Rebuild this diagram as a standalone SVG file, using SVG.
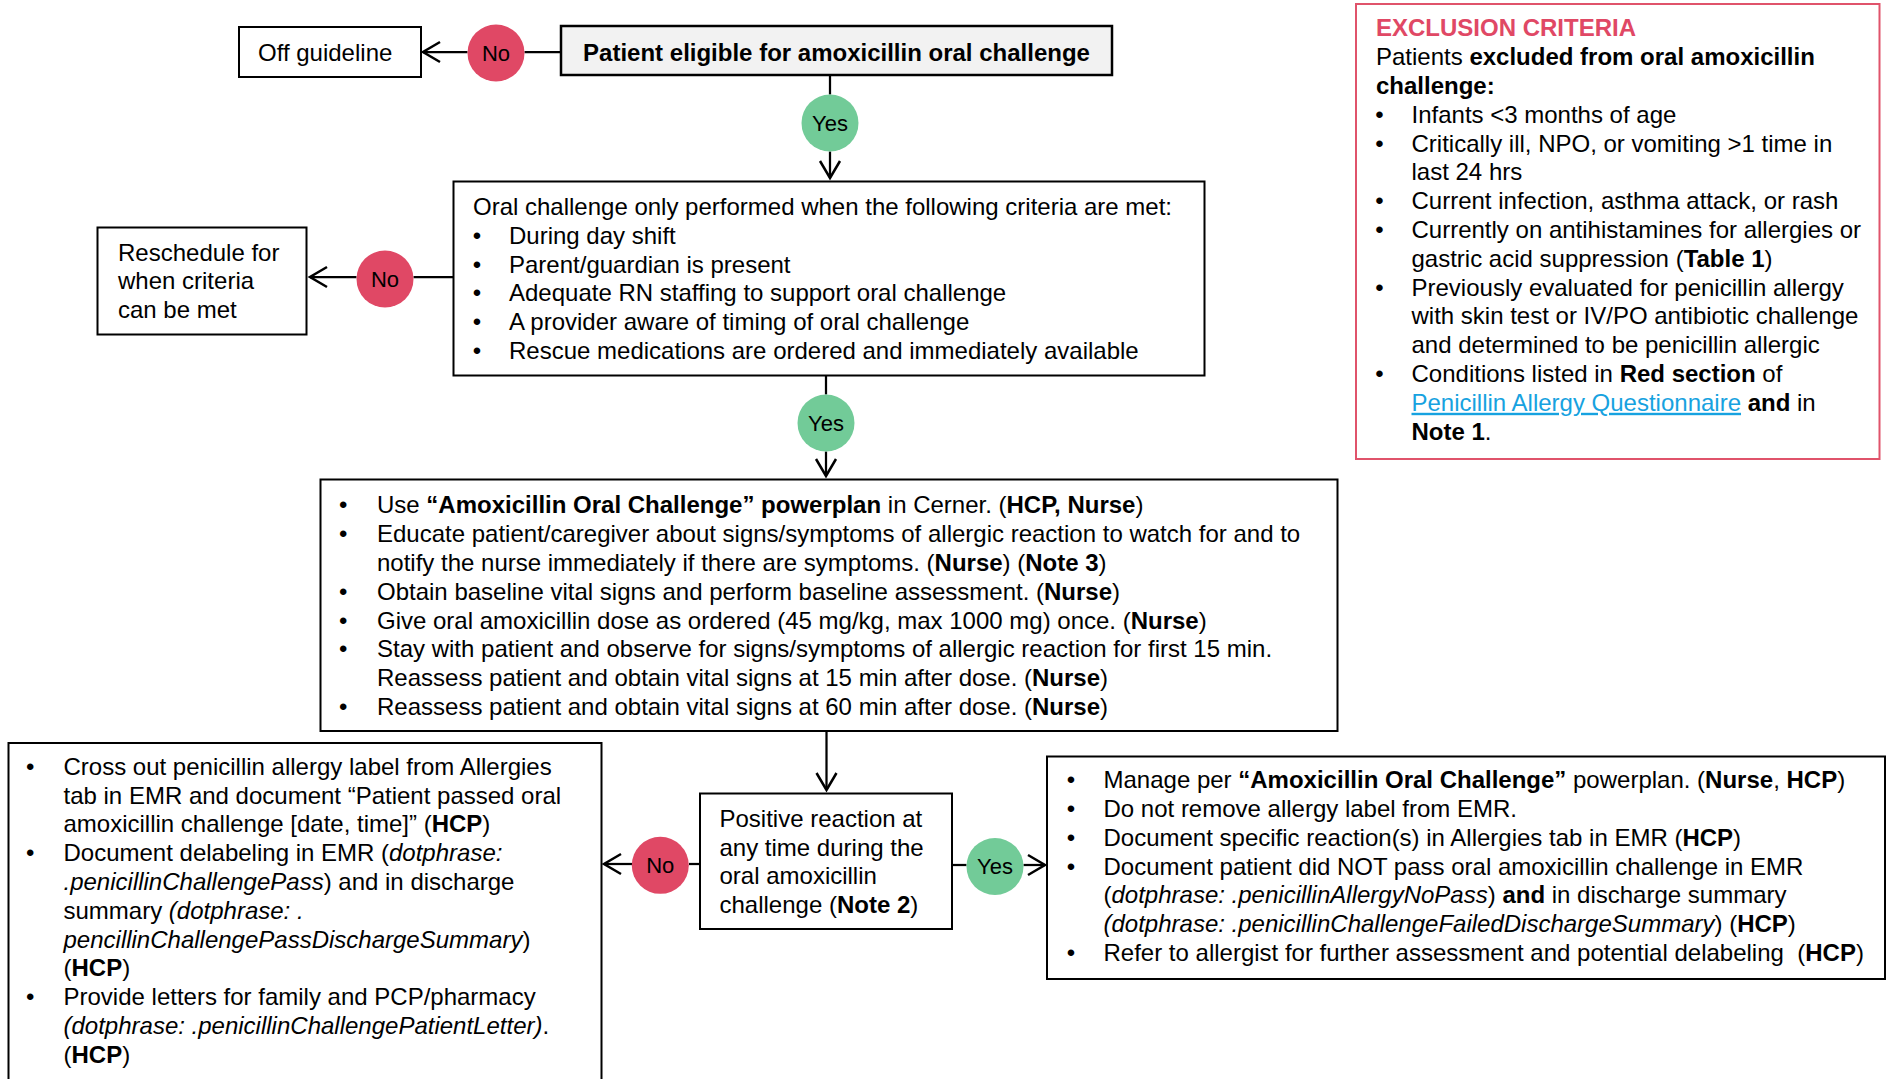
<svg xmlns="http://www.w3.org/2000/svg" width="1889" height="1079" viewBox="0 0 1889 1079">
<style>
  text { font-family: "Liberation Sans", Arial, sans-serif; font-size: 24px; fill: #000; }
  .b { font-weight: bold; }
  .i { font-style: italic; }
  .box { fill: #fff; stroke: #000; stroke-width: 2; }
  .gbox { fill: #f2f2f2; stroke: #000; stroke-width: 2.5; }
  .ex { fill: #fff; stroke: #e0536b; stroke-width: 2; }
  .no { fill: #e04865; }
  .yes { fill: #72cb98; }
  .lbl { font-size: 22px; text-anchor: middle; }
  .c { fill: none; stroke: #000; stroke-width: 2.25; }
  .red { fill: #e04865; }
  .lnk { fill: #17a2e0; text-decoration: underline; }
</style>
<defs>
  <marker id="arr" markerUnits="userSpaceOnUse" markerWidth="26" markerHeight="26" viewBox="-22 -13 26 26" refX="0" refY="0" orient="auto">
    <path d="M-17,-10 L0,0 L-17,10" fill="none" stroke="#000" stroke-width="2.5"/>
  </marker>
</defs>
<rect width="1889" height="1079" fill="#fff"/>

<g id="connectors">
  <line class="c" x1="561" y1="52" x2="524.5" y2="52"/>
  <line class="c" x1="467.5" y1="52" x2="423" y2="52" marker-end="url(#arr)"/>
  <line class="c" x1="830" y1="75" x2="830" y2="94.5"/>
  <line class="c" x1="830" y1="151.5" x2="830" y2="178" marker-end="url(#arr)"/>
  <line class="c" x1="453.5" y1="277" x2="413.5" y2="277"/>
  <line class="c" x1="356.5" y1="277" x2="310" y2="277" marker-end="url(#arr)"/>
  <line class="c" x1="826" y1="376" x2="826" y2="394.5"/>
  <line class="c" x1="826" y1="451.5" x2="826" y2="476" marker-end="url(#arr)"/>
  <line class="c" x1="826.5" y1="731" x2="826.5" y2="790" marker-end="url(#arr)"/>
  <line class="c" x1="700" y1="864" x2="689" y2="864"/>
  <line class="c" x1="632" y1="864" x2="604" y2="864" marker-end="url(#arr)"/>
  <line class="c" x1="952" y1="865" x2="966.5" y2="865"/>
  <line class="c" x1="1023.5" y1="865" x2="1045" y2="865" marker-end="url(#arr)"/>
</g>

<g id="off-guideline">
  <rect class="box" x="239" y="27" width="182" height="50"/>
  <text x="258" y="60.5">Off guideline</text>
</g>

<g id="no1">
  <circle class="no" cx="496" cy="53" r="28.5"/>
  <text class="lbl" x="496" y="60.7">No</text>
</g>

<g id="eligible">
  <rect class="gbox" x="561" y="26" width="551" height="49"/>
  <text class="b" x="836.5" y="60.5" text-anchor="middle">Patient eligible for amoxicillin oral challenge</text>
</g>

<g id="yes1">
  <circle class="yes" cx="830" cy="123" r="28.5"/>
  <text class="lbl" x="830" y="130.7">Yes</text>
</g>

<g id="criteria">
  <rect class="box" x="453.5" y="181.5" width="751" height="194"/>
  <text x="473" y="215">Oral challenge only performed when the following criteria are met:</text>
  <text x="472.8" y="243.8">•</text><text x="509" y="243.8">During day shift</text>
  <text x="472.8" y="272.6">•</text><text x="509" y="272.6">Parent/guardian is present</text>
  <text x="472.8" y="301.4">•</text><text x="509" y="301.4">Adequate RN staffing to support oral challenge</text>
  <text x="472.8" y="330.2">•</text><text x="509" y="330.2">A provider aware of timing of oral challenge</text>
  <text x="472.8" y="359">•</text><text x="509" y="359">Rescue medications are ordered and immediately available</text>
</g>

<g id="no2">
  <circle class="no" cx="385" cy="279" r="28.5"/>
  <text class="lbl" x="385" y="286.7">No</text>
</g>

<g id="reschedule">
  <rect class="box" x="97.5" y="227.5" width="209" height="107"/>
  <text x="118" y="260.5">Reschedule for</text>
  <text x="118" y="289.3">when criteria</text>
  <text x="118" y="318.1">can be met</text>
</g>

<g id="yes2">
  <circle class="yes" cx="826" cy="423" r="28.5"/>
  <text class="lbl" x="826" y="430.7">Yes</text>
</g>

<g id="procedure">
  <rect class="box" x="320.5" y="479.5" width="1017" height="251.5"/>
  <text x="339" y="513.4">•</text><text x="377" y="513.4">Use <tspan class="b">“Amoxicillin Oral Challenge” powerplan</tspan> in Cerner. (<tspan class="b">HCP, Nurse</tspan>)</text>
  <text x="339" y="542.2">•</text><text x="377" y="542.2">Educate patient/caregiver about signs/symptoms of allergic reaction to watch for and to</text>
  <text x="377" y="571">notify the nurse immediately if there are symptoms. (<tspan class="b">Nurse</tspan>) (<tspan class="b">Note 3</tspan>)</text>
  <text x="339" y="599.8">•</text><text x="377" y="599.8">Obtain baseline vital signs and perform baseline assessment. (<tspan class="b">Nurse</tspan>)</text>
  <text x="339" y="628.6">•</text><text x="377" y="628.6">Give oral amoxicillin dose as ordered (45 mg/kg, max 1000 mg) once. (<tspan class="b">Nurse</tspan>)</text>
  <text x="339" y="657.4">•</text><text x="377" y="657.4">Stay with patient and observe for signs/symptoms of allergic reaction for first 15 min.</text>
  <text x="377" y="686.2">Reassess patient and obtain vital signs at 15 min after dose. (<tspan class="b">Nurse</tspan>)</text>
  <text x="339" y="715">•</text><text x="377" y="715">Reassess patient and obtain vital signs at 60 min after dose. (<tspan class="b">Nurse</tspan>)</text>
</g>

<g id="positive">
  <rect class="box" x="700" y="793.5" width="252" height="135.5"/>
  <text x="719.5" y="826.8">Positive reaction at</text>
  <text x="719.5" y="855.6">any time during the</text>
  <text x="719.5" y="884.4">oral amoxicillin</text>
  <text x="719.5" y="913.2">challenge (<tspan class="b">Note 2</tspan>)</text>
</g>

<g id="no3">
  <circle class="no" cx="660.3" cy="865.3" r="28.5"/>
  <text class="lbl" x="660.3" y="873">No</text>
</g>

<g id="yes3">
  <circle class="yes" cx="995" cy="866.5" r="28.5"/>
  <text class="lbl" x="995" y="874.2">Yes</text>
</g>

<g id="passed">
  <rect class="box" x="8.5" y="743" width="593" height="400"/>
  <text x="26" y="774.8">•</text><text x="63.5" y="774.8">Cross out penicillin allergy label from Allergies</text>
  <text x="63.5" y="803.6">tab in EMR and document “Patient passed oral</text>
  <text x="63.5" y="832.4">amoxicillin challenge [date, time]” (<tspan class="b">HCP</tspan>)</text>
  <text x="26" y="861.2">•</text><text x="63.5" y="861.2">Document delabeling in EMR (<tspan class="i">dotphrase:</tspan></text>
  <text x="63.5" y="890"><tspan class="i">.penicillinChallengePass</tspan>) and in discharge</text>
  <text x="63.5" y="918.8">summary <tspan class="i">(dotphrase: .</tspan></text>
  <text x="63.5" y="947.6"><tspan class="i">pencillinChallengePassDischargeSummary</tspan>)</text>
  <text x="63.5" y="976.4">(<tspan class="b">HCP</tspan>)</text>
  <text x="26" y="1005.2">•</text><text x="63.5" y="1005.2">Provide letters for family and PCP/pharmacy</text>
  <text x="63.5" y="1034"><tspan class="i">(dotphrase: .penicillinChallengePatientLetter)</tspan>.</text>
  <text x="63.5" y="1062.8">(<tspan class="b">HCP</tspan>)</text>
</g>

<g id="failed">
  <rect class="box" x="1047" y="756.5" width="838" height="222.5"/>
  <text x="1066.8" y="788.2">•</text><text x="1103.5" y="788.2">Manage per <tspan class="b">“Amoxicillin Oral Challenge”</tspan> powerplan. (<tspan class="b">Nurse</tspan>, <tspan class="b">HCP</tspan>)</text>
  <text x="1066.8" y="817">•</text><text x="1103.5" y="817">Do not remove allergy label from EMR.</text>
  <text x="1066.8" y="845.8">•</text><text x="1103.5" y="845.8">Document specific reaction(s) in Allergies tab in EMR (<tspan class="b">HCP</tspan>)</text>
  <text x="1066.8" y="874.6">•</text><text x="1103.5" y="874.6">Document patient did NOT pass oral amoxicillin challenge in EMR</text>
  <text x="1103.5" y="903.4">(<tspan class="i">dotphrase: .penicillinAllergyNoPass</tspan>) <tspan class="b">and</tspan> in discharge summary</text>
  <text x="1103.5" y="932.2"><tspan class="i">(dotphrase: .penicillinChallengeFailedDischargeSummary</tspan>) (<tspan class="b">HCP</tspan>)</text>
  <text x="1066.8" y="961">•</text><text x="1103.5" y="961">Refer to allergist for further assessment and potential delabeling &#160;(<tspan class="b">HCP</tspan>)</text>
</g>

<g id="exclusion">
  <rect class="ex" x="1356" y="4" width="523.5" height="455"/>
  <text class="b red" x="1376" y="36.4">EXCLUSION CRITERIA</text>
  <text x="1376" y="65.2">Patients <tspan class="b">excluded from oral amoxicillin</tspan></text>
  <text class="b" x="1376" y="94">challenge:</text>
  <text x="1375.2" y="122.8">•</text><text x="1411.5" y="122.8">Infants &lt;3 months of age</text>
  <text x="1375.2" y="151.6">•</text><text x="1411.5" y="151.6">Critically ill, NPO, or vomiting &gt;1 time in</text>
  <text x="1411.5" y="180.4">last 24 hrs</text>
  <text x="1375.2" y="209.2">•</text><text x="1411.5" y="209.2">Current infection, asthma attack, or rash</text>
  <text x="1375.2" y="238">•</text><text x="1411.5" y="238">Currently on antihistamines for allergies or</text>
  <text x="1411.5" y="266.8">gastric acid suppression (<tspan class="b">Table 1</tspan>)</text>
  <text x="1375.2" y="295.6">•</text><text x="1411.5" y="295.6">Previously evaluated for penicillin allergy</text>
  <text x="1411.5" y="324.4">with skin test or IV/PO antibiotic challenge</text>
  <text x="1411.5" y="353.2">and determined to be penicillin allergic</text>
  <text x="1375.2" y="382">•</text><text x="1411.5" y="382">Conditions listed in <tspan class="b">Red section</tspan> of</text>
  <text x="1411.5" y="410.8"><tspan class="lnk">Penicillin Allergy Questionnaire</tspan> <tspan class="b">and</tspan> in</text>
  <text x="1411.5" y="439.6"><tspan class="b">Note 1</tspan>.</text>
</g>
</svg>
